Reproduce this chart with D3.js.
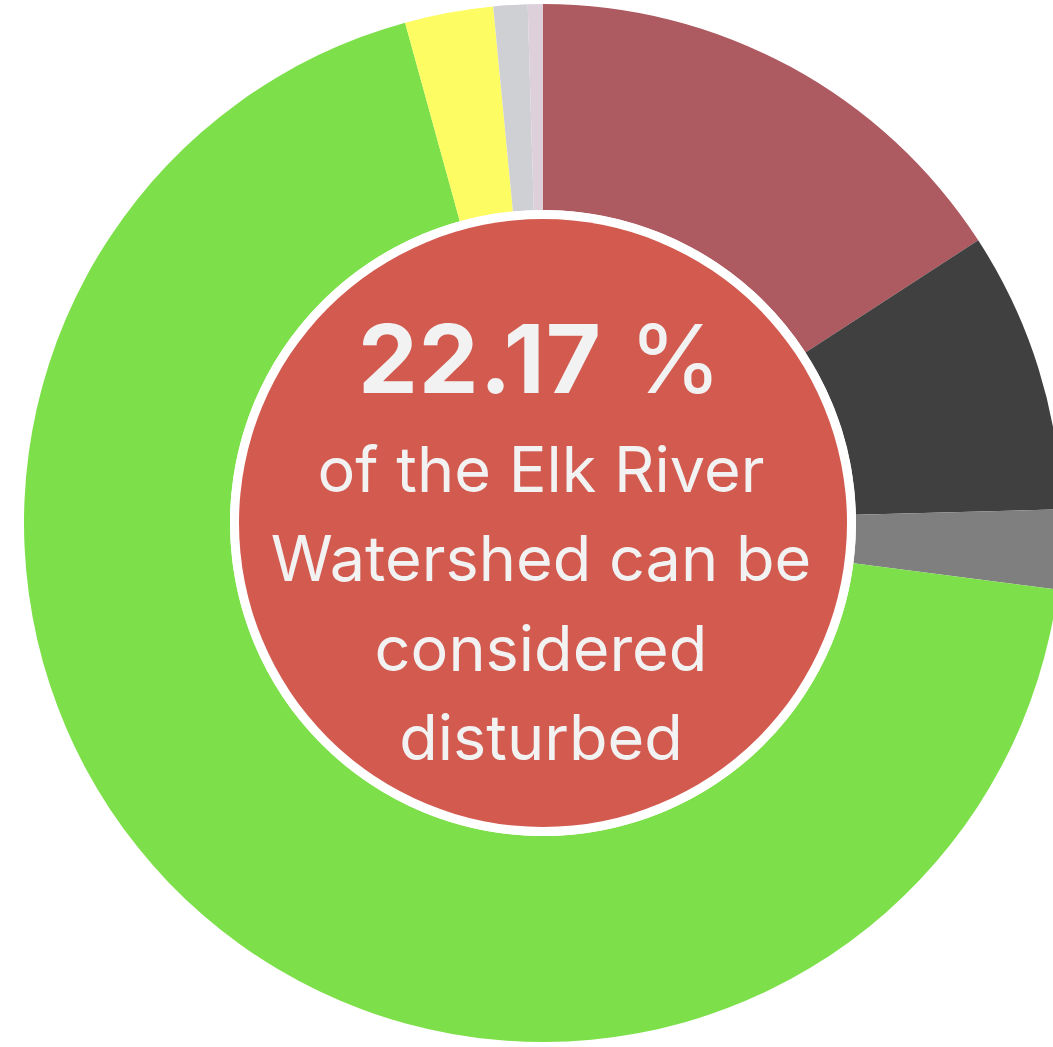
<!DOCTYPE html>
<html>
<head>
<meta charset="utf-8">
<script src="https://cdn.jsdelivr.net/npm/d3@7"></script>
<style>
  html, body { margin: 0; padding: 0; background: #ffffff; overflow: hidden; }
  svg { display: block; }
</style>
</head>
<body>
<div id="chart"></div>
<script>
const categories = ["Class A", "Class B", "Class C", "Class D", "Class E", "Class F", "Class G"];
const values = [15.83, 8.75, 2.47, 68.67, 2.75, 1.06, 0.47];
const colors = ["#ad5a61", "#404040", "#7f7f7f", "#7de04a", "#fdfd63", "#cfd0d4", "#ddd0da"];
const headline = "22.17";
const headlineUnit = " %";
const captionLines = ["of the Elk River", "Watershed can be", "considered", "disturbed"];

const W = 1053, H = 1047;
const cx = 543, cy = 523;
const outerR = 519, innerR = 313, discR = 304;

const svg = d3.select("#chart").append("svg")
  .attr("width", W).attr("height", H);
svg.append("rect").attr("width", W).attr("height", H).attr("fill", "#ffffff");

const g = svg.append("g").attr("transform", `translate(${cx},${cy})`);

const pie = d3.pie().sort(null).value(d => d.value).startAngle(0).endAngle(2 * Math.PI);
const arc = d3.arc().innerRadius(innerR).outerRadius(outerR);
const data = categories.map((c, i) => ({ category: c, value: values[i], color: colors[i] }));

g.selectAll("path.slice").data(pie(data)).enter().append("path")
  .attr("class", "slice")
  .attr("d", arc)
  .attr("fill", d => d.data.color);

g.append("circle").attr("r", innerR).attr("fill", "#ffffff");
g.append("circle").attr("r", discR).attr("fill", "#d25a4e");

const font = "Inter, 'Open Sans', sans-serif";
const t = g.append("text")
  .attr("text-anchor", "middle")
  .attr("x", 540 - cx)
  .attr("y", 393 - cy)
  .attr("fill", "#f2f2f2")
  .style("font-family", font)
  .style("font-size", "95px");
t.append("tspan").attr("font-weight", 700).style("letter-spacing", "1px").text(headline);
t.append("tspan").attr("font-weight", 400).text(headlineUnit);

const baselines = [492, 581, 671, 760];
g.selectAll("text.cap").data(captionLines).enter().append("text")
  .attr("class", "cap")
  .attr("text-anchor", "middle")
  .attr("x", 541 - cx)
  .attr("y", (d, i) => baselines[i] - cy)
  .attr("fill", "#f2f2f2")
  .style("font-family", font)
  .style("font-size", "63px")
  .style("font-weight", 400)
  .text(d => d);
</script>
</body>
</html>
